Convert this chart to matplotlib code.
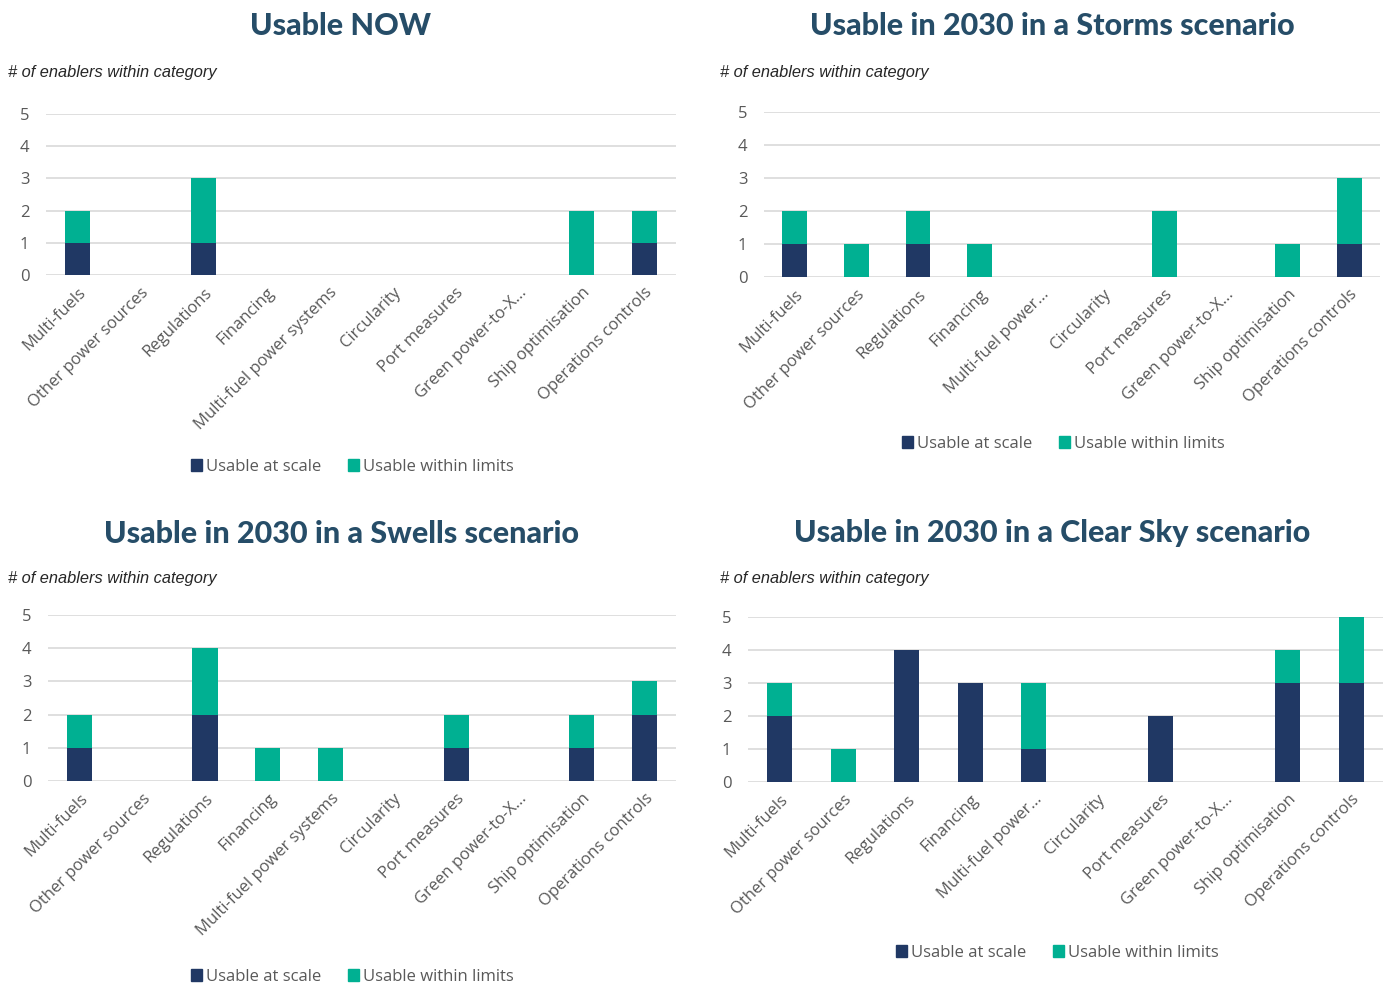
import numpy as np
import matplotlib
matplotlib.use("Agg")
from matplotlib import pyplot as plt
from matplotlib.patches import Patch

categories = ["Multi-fuels", "Other power sources", "Regulations", "Financing",
              "Multi-fuel power systems", "Circularity", "Port measures",
              "Green power-to-X...", "Ship optimisation", "Operations controls"]
categories_short = categories.copy()
categories_short[4] = "Multi-fuel power..."

titles = ["Usable NOW", "Usable in 2030 in a Storms scenario",
          "Usable in 2030 in a Swells scenario", "Usable in 2030 in a Clear Sky scenario"]

now_scale = [1, 0, 1, 0, 0, 0, 0, 0, 0, 1]
now_limits = [1, 0, 2, 0, 0, 0, 0, 0, 2, 1]
storms_scale = [1, 0, 1, 0, 0, 0, 0, 0, 0, 1]
storms_limits = [1, 1, 1, 1, 0, 0, 2, 0, 1, 2]
swells_scale = [1, 0, 2, 0, 0, 0, 1, 0, 1, 2]
swells_limits = [1, 0, 2, 1, 1, 0, 1, 0, 1, 1]
clearsky_scale = [2, 0, 4, 3, 1, 0, 2, 0, 3, 3]
clearsky_limits = [1, 1, 0, 0, 2, 0, 0, 0, 1, 2]

NAVY = "#203864"
TEAL = "#00b092"
GREY = "#595959"
TITLE_C = "#264d68"

W, H = 1389, 985
fig = plt.figure(figsize=(W / 100, H / 100), dpi=100)


def px(x0, y0, x1, y1):
    # pixel box (left, top, right, bottom) -> figure fraction rect
    return [x0 / W, 1 - y1 / H, (x1 - x0) / W, (y1 - y0) / H]


panels = [
    dict(box=(46, 114, 676, 275), scale=now_scale, limits=now_limits, labels=categories,
         title=(341, 26), sub=(8, 72), leg=(352, 467)),
    dict(box=(764, 112, 1380, 277), scale=storms_scale, limits=storms_limits, labels=categories_short,
         title=(1052, 26), sub=(720, 72), leg=(1063, 444)),
    dict(box=(48, 615, 676, 781), scale=swells_scale, limits=swells_limits, labels=categories,
         title=(341, 534), sub=(8, 579), leg=(352, 977)),
    dict(box=(748, 617, 1383, 782), scale=clearsky_scale, limits=clearsky_limits, labels=categories_short,
         title=(1052, 533), sub=(720, 578), leg=(1057, 953)),
]

for p, title in zip(panels, titles):
    ax = fig.add_axes(px(*p["box"]))
    x = np.arange(len(categories))
    ax.bar(x, p["scale"], width=0.4, color=NAVY, zorder=3)
    ax.bar(x, p["limits"], width=0.4, bottom=p["scale"], color=TEAL, zorder=3)
    ax.set_xlim(-0.5, len(categories) - 0.5)
    ax.set_ylim(0, 5)
    ax.set_yticks(range(6))
    ax.yaxis.grid(True, color="#d9d9d9", linewidth=1.2, zorder=0)
    ax.set_axisbelow(True)
    for s in ax.spines.values():
        s.set_visible(False)
    ax.tick_params(length=0, colors=GREY, labelsize=12)
    ax.tick_params(axis="y", pad=12)
    ax.set_xticks(x)
    ax.set_xticklabels(p["labels"], rotation=45, ha="right", rotation_mode="anchor",
                       fontsize=12, color=GREY, family="Open Sans")
    for t in ax.get_yticklabels():
        t.set_family("Open Sans")
    ax.tick_params(axis="x", pad=7)

    fig.text(p["title"][0] / W, 1 - p["title"][1] / H, title, ha="center", va="center",
             fontsize=22, fontweight="black", family="Lato", color=TITLE_C)
    fig.text(p["sub"][0] / W, 1 - p["sub"][1] / H, "# of enablers within category",
             ha="left", va="center", fontsize=11.8, style="italic", color="#262626",
             family="Liberation Sans")

    handles = [Patch(color=NAVY, label="Usable at scale"),
               Patch(color=TEAL, label="Usable within limits")]
    ax.legend(handles=handles, loc="center", ncol=2, frameon=False,
              bbox_to_anchor=(p["leg"][0] / W, 1 - p["leg"][1] / H),
              bbox_transform=fig.transFigure, handlelength=0.7, handleheight=0.7,
              handletextpad=0.2, columnspacing=1.6,
              prop={"family": "Open Sans", "size": 12}, labelcolor=GREY)

fig.savefig("out.png", dpi=100)
